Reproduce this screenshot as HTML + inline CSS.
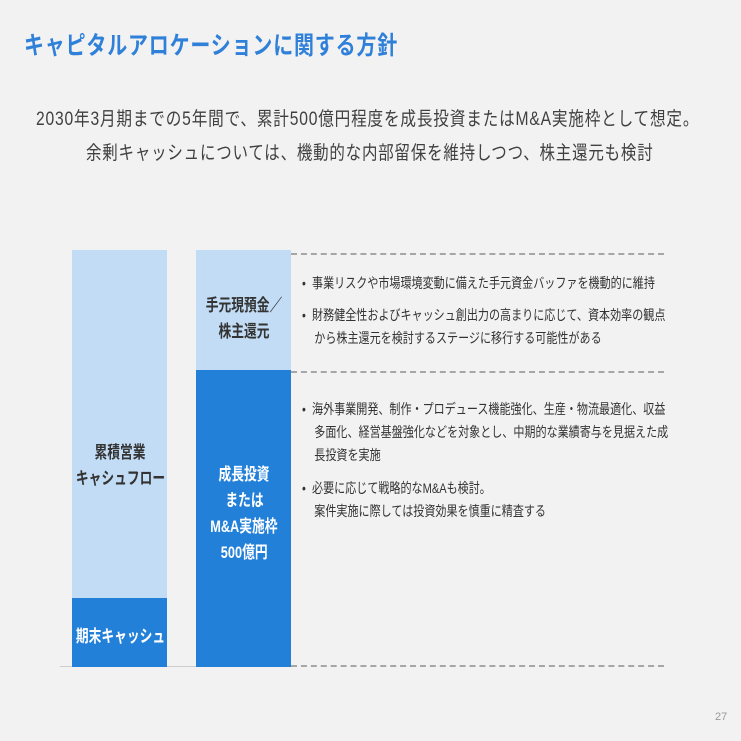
<!DOCTYPE html>
<html><head><meta charset="utf-8"><style>
body{margin:0;width:741px;height:741px;background:#f2f2f2;position:relative;overflow:hidden;font-family:"Liberation Sans","Noto Sans CJK JP",sans-serif}
.a{position:absolute;white-space:nowrap}
.c{transform-origin:0 0}
.dash{position:absolute;left:291px;width:373px;border-top:2px dashed #a6a6a6}
.bt{color:#333;font-size:14px;line-height:23px}
.s{display:inline-block;transform:scaleX(0.75)}
.lab{width:200px;text-align:center;font-weight:bold;font-size:17px;line-height:26px}
</style></head><body>
<div class="a c" style="left:24px;top:26px;font-size:25px;font-weight:bold;color:#2f80d9;letter-spacing:1px;transform:scaleX(0.8)">キャピタルアロケーションに関する方針</div>
<div class="a c" style="left:36px;top:104px;font-size:19px;color:#404040;letter-spacing:1px;transform:scaleX(0.822)">2030年3月期までの5年間で、累計500億円程度を成長投資またはM&amp;A実施枠として想定。</div>
<div class="a c" style="left:86px;top:138px;font-size:19px;color:#404040;letter-spacing:1px;transform:scaleX(0.814)">余剰キャッシュについては、機動的な内部留保を維持しつつ、株主還元も検討</div>
<div class="a" style="left:60px;top:666px;width:140px;border-top:1px solid #ccc"></div>
<div class="a" style="left:72px;top:250px;width:95px;height:348px;background:#c2dcf5"></div>
<div class="a" style="left:72px;top:598px;width:95px;height:69px;background:#2380d9"></div>
<div class="a" style="left:196px;top:250px;width:95px;height:120px;background:#c2dcf5"></div>
<div class="a" style="left:196px;top:370px;width:95px;height:297px;background:#2380d9"></div>
<div class="dash" style="top:253px"></div>
<div class="dash" style="top:371px"></div>
<div class="dash" style="top:665px"></div>
<div class="a lab" style="left:20px;top:440px;color:#333"><span class="s">累積営業</span><br><span class="s">キャシュフロー</span></div>
<div class="a lab" style="left:20px;top:624px;color:#fff"><span class="s">期末キャッシュ</span></div>
<div class="a lab" style="left:144px;top:293px;color:#333"><span class="s">手元現預金／</span><br><span class="s">株主還元</span></div>
<div class="a lab" style="left:144px;top:462px;color:#fff"><span class="s">成長投資</span><br><span class="s">または</span><br><span class="s">M&amp;A実施枠</span><br><span class="s">500億円</span></div>
<div class="a c bt" style="left:302px;top:272px;transform:scaleX(0.79)">•&nbsp; 事業リスクや市場環境変動に備えた手元資金バッファを機動的に維持</div>
<div class="a c bt" style="left:302px;top:304px;transform:scaleX(0.79)">•&nbsp; 財務健全性およびキャッシュ創出力の高まりに応じて、資本効率の観点<br>&nbsp;&nbsp;&nbsp;&nbsp;から株主還元を検討するステージに移行する可能性がある</div>
<div class="a c bt" style="left:302px;top:398px;transform:scaleX(0.79)">•&nbsp; 海外事業開発、制作・プロデュース機能強化、生産・物流最適化、収益<br>&nbsp;&nbsp;&nbsp;&nbsp;多面化、経営基盤強化などを対象とし、中期的な業績寄与を見据えた成<br>&nbsp;&nbsp;&nbsp;&nbsp;長投資を実施</div>
<div class="a c bt" style="left:302px;top:477px;transform:scaleX(0.79)">•&nbsp; 必要に応じて戦略的なM&amp;Aも検討。<br>&nbsp;&nbsp;&nbsp;&nbsp;案件実施に際しては投資効果を慎重に精査する</div>
<div class="a" style="left:715px;top:711px;font-size:11px;color:#999">27</div>
</body></html>
